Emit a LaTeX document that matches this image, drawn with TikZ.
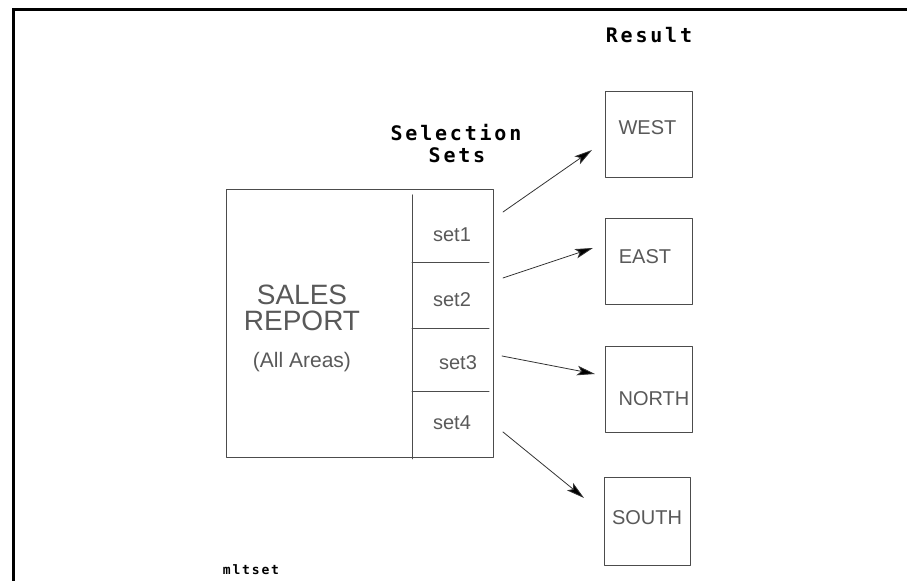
\documentclass[tikz,border=0pt]{standalone}
\usepackage{fontspec}
\setmainfont{Liberation Sans}
\newfontfamily\headfont[LetterSpace=14]{DejaVu Sans Mono}
\usetikzlibrary{positioning,arrows.meta}

\begin{document}
\begin{tikzpicture}[x=0.5pt,y=-0.5pt, line cap=round, line join=round]
	\useasboundingbox (0,0) rectangle (907,581);
	
	% ===== styles =====
	\tikzset{
		ln/.style={draw=black!70, line width=0.5pt},
		lbl/.style={text=black!65, inner sep=0pt},
		setf/.style={font=\fontsize{10}{12}\selectfont},
		areaf/.style={font=\fontsize{10}{12}\selectfont},
		head/.style={inner sep=0pt, font=\headfont\bfseries\fontsize{10}{11}\selectfont},
		arr/.style={draw=black!80, line width=0.4pt, -{Stealth[length=9pt,width=4.8pt,inset=2pt,fill=black]}}
	}
	
	% ===== frame (top and left only) =====
	\draw[line width=1.6pt, line cap=butt, line join=miter] (907,9.5) -- (13.5,9.5) -- (13.5,581);
	
	% ===== headings =====
	\node[head] (result) at (649,35) {Result};
	\node[head] (selection) at (456,133) {Selection};
	\node[head] (sets) at (457,155) {Sets};
	\node[head, font=\headfont\bfseries\fontsize{6.5}{7}\selectfont] (mltset) at (251,570) {mltset};
	
	% ===== sales report box with the four sets =====
	\draw[ln] (226,190) rectangle (493,458);
	\draw[ln] (412,195) -- (412,459);
	\foreach \y in {263,329,392}{
		\draw[ln] (412,\y) -- (489,\y);
	}
	\node[lbl, align=center, font=\fontsize{14}{13}\selectfont] (sales) at (302,308) {SALES\\REPORT};
	\node[lbl, font=\fontsize{10.5}{12}\selectfont] (areas) at (302,362) {(All Areas)};
	
	% set1 .. set4
	\foreach \n/\x/\y in {1/452/235, 2/452/300, 3/458/363, 4/452/423}{
		\node[lbl, setf] (set\n) at (\x,\y) {set\n};
	}
	
	% ===== result boxes =====
	\foreach \name/\txt/\xa/\ya/\xb/\yb/\tx/\ty in {
		west/WEST/605/92/692/178/647.5/128,
		east/EAST/605/219/692/305/645/257,
		north/NORTH/605/347/692/433/654/399,
		south/SOUTH/604/478/690/566/647/518}{
		\draw[ln] (\xa,\ya) rectangle (\xb,\yb);
		\node[lbl, areaf] (\name) at (\tx,\ty) {\txt};
	}
	
	% ===== arrows (free ends) =====
	\coordinate (from1) at (503,212);
	\coordinate (to1)   at (592,150);
	\coordinate (from2) at (503,278);
	\coordinate (to2)   at (593,248);
	\coordinate (from3) at (502,356);
	\coordinate (to3)   at (595,374);
	\coordinate (from4) at (503,432);
	\coordinate (to4)   at (584,498);
	\foreach \i in {1,...,4}{
		\draw[arr] (from\i) -- (to\i);
	}
	
\end{tikzpicture}
\end{document}
